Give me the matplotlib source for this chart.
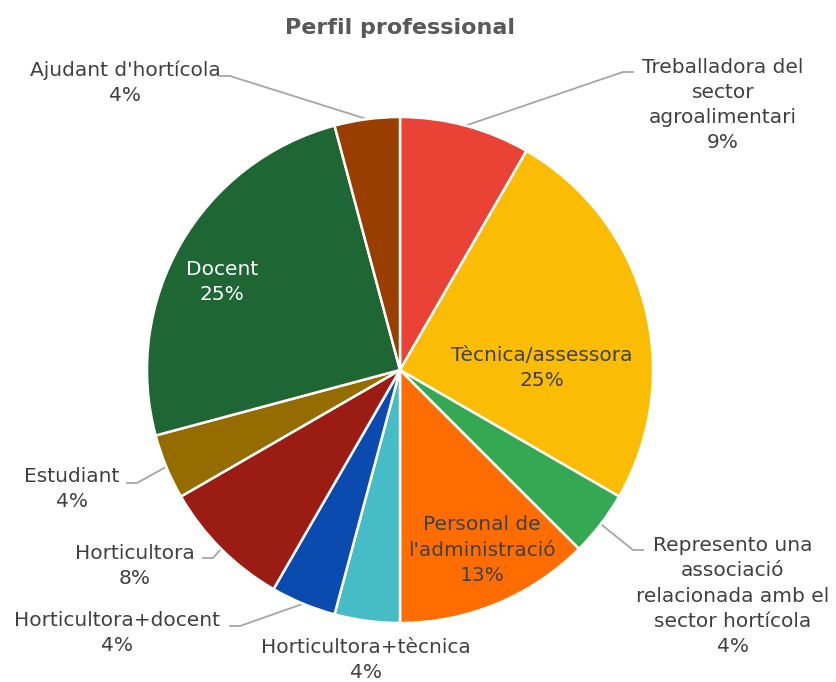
import numpy as np
import matplotlib.pyplot as plt

labels = ["Treballadora del\nsector\nagroalimentari", "Tècnica/assessora",
          "Represento una\nassociació\nrelacionada amb el\nsector hortícola",
          "Personal de\nl'administració", "Horticultora+tècnica",
          "Horticultora+docent", "Horticultora", "Estudiant", "Docent",
          "Ajudant d'hortícola"]
# responses per profile (slice sizes) and the percentages printed on the chart
counts = [2, 6, 1, 3, 1, 1, 2, 1, 6, 1]
pct_labels = ["9%", "25%", "4%", "13%", "4%", "4%", "8%", "4%", "25%", "4%"]
colors = ["#EA4335", "#FBBC04", "#34A853", "#FF6D01", "#46BDC6",
          "#0B4BB0", "#9A1C12", "#946C00", "#1E6634", "#9A3E00"]

# label placement in pixels (x, y from top), and elbow point of leader line (None = inside)
text_pos = [(723, 105), (542, 368), (733, 596), (482, 550), (366, 660),
            (117, 633), (135, 566), (72, 489), (222, 282), (125, 83)]
elbows = [(623, 72), None, (633, 550), None, None,
          (240, 626), (213, 558), (137, 483), None, (230, 76)]
inside_color = {8: "white"}

W, H = 837, 682
cx, cy, R = 400, 370, 253

plt.rcParams['font.family'] = ['DejaVu Sans']
fig = plt.figure(figsize=(W / 100, H / 100), dpi=100)
ax = fig.add_axes([0, 0, 1, 1])

wedges, _ = ax.pie(counts, colors=colors, startangle=90, counterclock=False,
                   center=(cx, H - cy), radius=R,
                   wedgeprops=dict(edgecolor='white', linewidth=1.8))
ax.set_xlim(0, W)
ax.set_ylim(0, H)
ax.set_aspect('equal')
ax.axis('off')

for i, w in enumerate(wedges):
    tx, ty = text_pos[i]
    col = inside_color.get(i, "#404040")
    ax.text(tx, H - ty, labels[i] + "\n" + pct_labels[i], ha='center', va='center',
            fontsize=14.5, color=col, linespacing=1.42)
    if elbows[i] is not None:
        ang = np.deg2rad((w.theta1 + w.theta2) / 2)
        px = cx + R * np.cos(ang)
        py = (H - cy) + R * np.sin(ang)
        ex, ey = elbows[i]
        side = 1 if ex > cx else -1
        ax.plot([px, ex, ex + side * 10], [py, H - ey, H - ey],
                color="#A6A6A6", lw=1.3, zorder=0)

ax.text(cx, H - 28, "Perfil professional", ha='center', va='center',
        fontsize=16, fontweight='bold', color="#595959")

fig.savefig("out.png", dpi=100)
